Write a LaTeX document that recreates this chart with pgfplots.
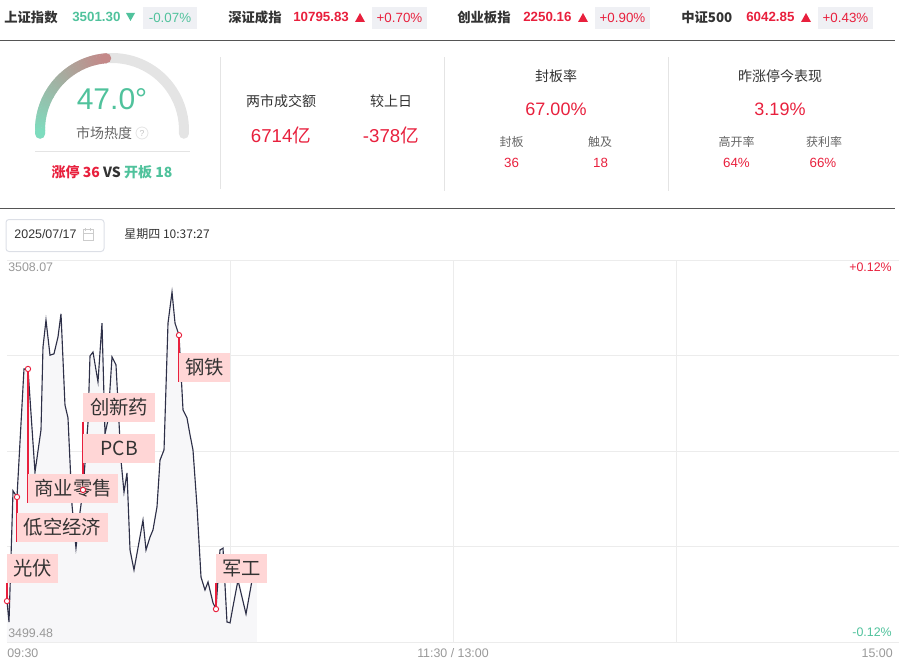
\documentclass[border=0pt]{standalone}
\usepackage{pgfplots}
\usepackage{pgfplotstable}
\pgfplotsset{compat=1.18}
\usepackage{fontspec}
\setmainfont{Liberation Sans}
\newfontfamily\cjk{Noto Sans CJK SC}
\definecolor{upred}{HTML}{E8203D}
\definecolor{dngreen}{HTML}{50C29C}
\definecolor{badge}{HTML}{EFF0F4}
\definecolor{dark}{HTML}{333333}
\definecolor{midgray}{HTML}{666666}
\definecolor{lgray}{HTML}{999999}
\definecolor{sep}{HTML}{E4E4E4}
\definecolor{gridc}{HTML}{ECECEC}
\definecolor{linec}{HTML}{2E3048}
\definecolor{fillc}{HTML}{F7F7F9}
\definecolor{labelc}{HTML}{FFD6D6}
\definecolor{gaugeA}{HTML}{7EDCBE}
\definecolor{gaugeB}{HTML}{C48888}
\definecolor{gaugebg}{HTML}{E4E4E4}
\definecolor{rule}{HTML}{555555}
\definecolor{boxc}{HTML}{DCDFE6}
\newcommand{\fsz}[1]{\fontsize{#1}{#1}\selectfont}

\pgfplotstableread{
t p
0 3500.40
0.54 3499.93
1.62 3502.88
2.69 3502.74
4.57 3505.62
5.65 3505.62
7.53 3503.30
9.15 3504.25
9.68 3506.11
10.49 3506.72
11.57 3505.93
12.64 3505.96
13.72 3506.34
14.53 3506.86
15.60 3504.81
16.41 3504.52
17.49 3502.56
18.56 3501.59
19.64 3502.40
20.45 3502.90
21.79 3504.41
22.33 3505.91
23.14 3506.00
24.48 3505.33
25.56 3506.65
26.37 3504.16
27.18 3504.47
28.25 3505.89
29.33 3505.71
30.67 3503.57
31.48 3502.85
32.29 3503.28
33.10 3501.55
34.17 3501.10
36.59 3502.22
37.40 3501.55
38.48 3501.84
39.28 3502.00
40.36 3502.52
41.17 3503.57
42.25 3503.80
43.32 3506.65
44.40 3507.35
45.21 3506.65
46.28 3506.38
47.36 3504.70
48.43 3504.52
49.24 3504.14
50.04 3503.80
51.13 3502.52
52.20 3500.94
53.27 3500.65
54.09 3500.83
55.43 3500.36
56.23 3500.22
57.31 3501.55
58.12 3501.59
59.19 3499.93
60.01 3499.91
60.79 3500.27
62.15 3500.87
64.31 3500.11
65.93 3500.87
}\pricedata

\tikzset{lbl/.style={anchor=south west, fill=labelc, text=dark, inner xsep=0pt, inner ysep=0pt, minimum height=21.75pt, font=\cjk\fsz{14.5pt}}}

\begin{document}
\begin{tikzpicture}
\path[use as bounding box] (0,0) rectangle (678pt,-500.25pt);
\begin{scope}[x=0.75pt,y=-0.75pt]
\coordinate (axnw) at (7,260);
\coordinate (gc) at (112,130);
% ---------- top row ----------
\node[anchor=west, inner sep=0, text=dark, font=\cjk\bfseries\fsz{10pt}] at (4,17) {上证指数};
\node[anchor=west, inner sep=0, text=dngreen, font=\bfseries\fsz{10pt}] at (72,17) {3501.30};
\fill[dngreen] (126,13) -- (135,13) -- (130.5,21) -- cycle;
\fill[badge] (143,7) rectangle (197,29);
\node[inner sep=0, text=dngreen, font=\fsz{10pt}] at (170,18) {-0.07\%};

\node[anchor=west, inner sep=0, text=dark, font=\cjk\bfseries\fsz{10pt}] at (228,17) {深证成指};
\node[anchor=west, inner sep=0, text=upred, font=\bfseries\fsz{10pt}] at (293,17) {10795.83};
\fill[upred] (355,22) -- (365,22) -- (360,13) -- cycle;
\fill[badge] (372,7) rectangle (427,29);
\node[inner sep=0, text=upred, font=\fsz{10pt}] at (399.5,18) {+0.70\%};

\node[anchor=west, inner sep=0, text=dark, font=\cjk\bfseries\fsz{10pt}] at (457,17) {创业板指};
\node[anchor=west, inner sep=0, text=upred, font=\bfseries\fsz{10pt}] at (523,17) {2250.16};
\fill[upred] (578,22) -- (588,22) -- (583,13) -- cycle;
\fill[badge] (595,7) rectangle (650,29);
\node[inner sep=0, text=upred, font=\fsz{10pt}] at (622.5,18) {+0.90\%};

\node[anchor=west, inner sep=0, text=dark, font=\cjk\bfseries\fsz{10pt}] at (681,17) {中证500};
\node[anchor=west, inner sep=0, text=upred, font=\bfseries\fsz{10pt}] at (746,17) {6042.85};
\fill[upred] (801,22) -- (811,22) -- (806,13) -- cycle;
\fill[badge] (818,7) rectangle (873,29);
\node[inner sep=0, text=upred, font=\fsz{10pt}] at (845.5,18) {+0.43\%};

\draw[rule, line width=0.75pt] (0,40.5) -- (895,40.5);
\draw[rule, line width=0.75pt] (0,208.5) -- (895,208.5);

% ---------- gauge ----------
\draw[gaugebg, line width=7.5pt, line cap=round] ([shift={(183:54pt)}]gc) arc[start angle=183, end angle=-3, radius=54pt];
\foreach \i in {0,...,35}{
  \pgfmathsetmacro\a{183-\i*2.45}
  \pgfmathsetmacro\b{\a-2.75}
  \pgfmathsetmacro\p{\i*100/35}
  \draw[color=gaugeB!\p!gaugeA, line width=7.5pt] ([shift={(\a:54pt)}]gc) arc[start angle=\a, end angle=\b, radius=54pt];
}
\fill[gaugeA] ([shift={(183:54pt)}]gc) circle[radius=3.75pt];
\fill[gaugeB] ([shift={(94.6:54pt)}]gc) circle[radius=3.75pt];
\node[text=dngreen, font=\fsz{22.5pt}, inner sep=0] at (112,99) {47.0°};
\node[text=midgray, font=\cjk\fsz{10.5pt}, inner sep=0] at (104,133) {市场热度};
\draw[sep, line width=0.6pt] (142,133) circle[radius=4.5pt];
\node[text=lgray!60, font=\fsz{6.5pt}, inner sep=0] at (142,133) {?};
\draw[sep, line width=0.75pt] (35,152) -- (190,152);
\node[font=\cjk\bfseries\fsz{10.5pt}, inner sep=0] at (112,172) {\textcolor{upred}{涨停 36} \textcolor{dark}{VS} \textcolor{dngreen}{开板 18}};

% ---------- separators ----------
\draw[sep, line width=0.75pt] (220,57) -- (220,189);
\draw[sep, line width=0.75pt] (444,57) -- (444,191);
\draw[sep, line width=0.75pt] (668,57) -- (668,191);

% ---------- turnover ----------
\node[text=dark, font=\cjk\fsz{10.5pt}, inner sep=0] at (281,101) {两市成交额};
\node[text=dark, font=\cjk\fsz{10.5pt}, inner sep=0] at (391,101) {较上日};
\node[text=upred, font=\fsz{14pt}, inner sep=0] at (281,135) {6714{\cjk 亿}};
\node[text=upred, font=\fsz{14pt}, inner sep=0] at (391,135) {-378{\cjk 亿}};

% ---------- seal rate ----------
\node[text=dark, font=\cjk\fsz{10.5pt}, inner sep=0] at (556,76) {封板率};
\node[text=upred, font=\fsz{13.5pt}, inner sep=0] at (556,109) {67.00\%};
\node[text=midgray, font=\cjk\fsz{9pt}, inner sep=0] at (511.5,142) {封板};
\node[text=midgray, font=\cjk\fsz{9pt}, inner sep=0] at (600,142) {触及};
\node[text=upred, font=\fsz{10pt}, inner sep=0] at (511.5,163) {36};
\node[text=upred, font=\fsz{10pt}, inner sep=0] at (600.5,163) {18};

% ---------- yesterday limit-up ----------
\node[text=dark, font=\cjk\fsz{10.5pt}, inner sep=0] at (780,76) {昨涨停今表现};
\node[text=upred, font=\fsz{13.5pt}, inner sep=0] at (780,109) {3.19\%};
\node[text=midgray, font=\cjk\fsz{9pt}, inner sep=0] at (736.5,142) {高开率};
\node[text=midgray, font=\cjk\fsz{9pt}, inner sep=0] at (824,142) {获利率};
\node[text=upred, font=\fsz{10pt}, inner sep=0] at (736.5,163) {64\%};
\node[text=upred, font=\fsz{10pt}, inner sep=0] at (823,163) {66\%};

% ---------- date ----------
\draw[boxc, rounded corners=2.25pt, line width=0.75pt] (6,219.5) rectangle (104,251.5);
\node[text=dark, font=\fsz{9.3pt}, inner sep=0] at (45.5,234) {2025/07/17};
\draw[lgray!50, line width=0.6pt] (83,229.5) rectangle (93,240);
\draw[lgray!50, line width=0.6pt] (83,233) -- (93,233);
\draw[lgray!50, line width=0.6pt] (85.5,228) -- (85.5,230.5) (90.5,228) -- (90.5,230.5);
\node[text=dark, font=\cjk\fsz{9pt}, inner sep=0] at (167,234) {星期四 10:37:27};
\end{scope}

\begin{axis}[at={(axnw)}, anchor=north west, scale only axis,
  width=669pt, height=286.5pt,
  xmin=0, xmax=240, ymin=3499.48, ymax=3508.07,
  axis line style={draw=none},
  xtick={60,120,180}, ytick={3499.48,3501.6275,3503.775,3505.9225,3508.07},
  xticklabels={}, yticklabels={}, tick style={draw=none},
  grid=major, grid style={gridc, line width=0.75pt},
  clip=false]
\addplot[fill=fillc, draw=none] table {\pricedata} -- (axis cs:67.2,3500.87) -- (axis cs:67.2,3499.48) -- (axis cs:0,3499.48) -- cycle;
\addplot[linec, line width=0.85pt] table {\pricedata};
\addplot[upred, line width=1.2pt] coordinates {(0,3500.40) (0,3500.81)};
\addplot[upred, line width=1.2pt] coordinates {(2.69,3502.74) (2.69,3501.73)};
\addplot[upred, line width=1.2pt] coordinates {(5.65,3505.62) (5.65,3502.61)};
\addplot[upred, line width=1.2pt] coordinates {(20.45,3502.90) (20.45,3504.43)};
\addplot[upred, line width=1.2pt] coordinates {(46.28,3506.38) (46.28,3505.33)};
\addplot[upred, line width=1.2pt] coordinates {(56.23,3500.22) (56.23,3500.81)};
\addplot[only marks, mark=*, mark size=2pt, mark options={fill=white, draw=upred, line width=0.7pt}] coordinates {(0,3500.40) (2.69,3502.74) (5.65,3505.62) (20.45,3502.90) (46.28,3506.38) (56.23,3500.22)};
\node[lbl, minimum width=38pt] at (axis cs:0,3500.81) {光伏};
\node[lbl, minimum width=68pt] at (axis cs:2.69,3501.73) {低空经济};
\node[lbl, minimum width=67.5pt] at (axis cs:5.65,3502.61) {商业零售};
\node[lbl, minimum width=54pt] at (axis cs:20.45,3503.51) {PCB};
\node[lbl, minimum width=54pt] at (axis cs:20.45,3504.43) {创新药};
\node[lbl, minimum width=38pt] at (axis cs:46.28,3505.33) {钢铁};
\node[lbl, minimum width=38.25pt] at (axis cs:56.23,3500.81) {军工};
\end{axis}

\begin{scope}[x=0.75pt,y=-0.75pt]
\node[anchor=west, text=lgray, font=\fsz{9.3pt}, inner sep=0] at (8,267) {3508.07};
\node[anchor=west, text=lgray, font=\fsz{9.3pt}, inner sep=0] at (8,633) {3499.48};
\node[anchor=east, text=upred, font=\fsz{9.3pt}, inner sep=0] at (892,267) {+0.12\%};
\node[anchor=east, text=dngreen, font=\fsz{9.3pt}, inner sep=0] at (892,632.5) {-0.12\%};
\node[anchor=west, text=lgray, font=\fsz{9.3pt}, inner sep=0] at (7,653) {09:30};
\node[text=lgray, font=\fsz{9.3pt}, inner sep=0] at (453,653) {11:30 / 13:00};
\node[anchor=east, text=lgray, font=\fsz{9.3pt}, inner sep=0] at (893,653) {15:00};
\end{scope}
\end{tikzpicture}
\end{document}
